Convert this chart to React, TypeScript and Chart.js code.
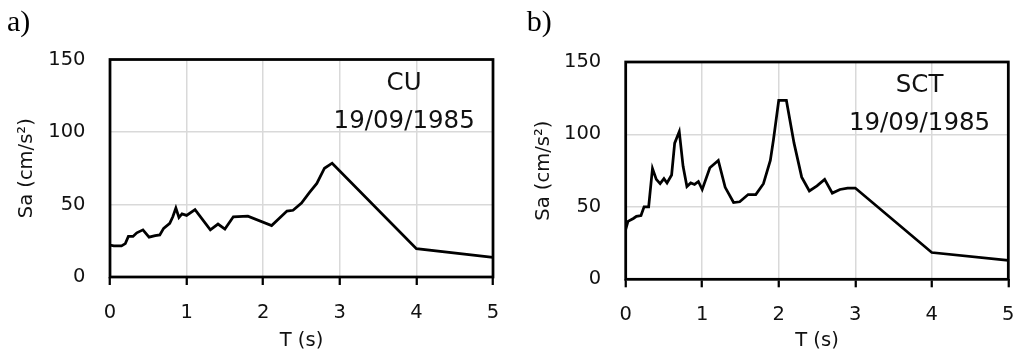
import React, { useEffect, useRef } from "react";
import { Chart, registerables } from "chart.js";

Chart.register(...registerables);

// Tick values
const T_TICKS = [0, 1, 2, 3, 4, 5];
const SA_TICKS = [0, 50, 100, 150];

// a) CU station spectrum
const CU_T = [0, 0.05, 0.1, 0.15, 0.2, 0.24, 0.3, 0.35, 0.43, 0.51, 0.59, 0.65, 0.7, 0.78, 0.82, 0.86, 0.9, 0.94, 1.0, 1.11, 1.31, 1.41, 1.5, 1.61, 1.8, 2.11, 2.31, 2.39, 2.5, 2.6, 2.7, 2.8, 2.9, 4, 5];
const CU_SA = [22, 21.5, 21.5, 21.5, 23, 28, 28, 30.5, 32.5, 27.5, 28.5, 29, 33.5, 37, 41.5, 47.5, 41, 43.5, 42.5, 46.5, 32.5, 36.5, 33, 41.5, 42, 35.5, 45.5, 46, 51, 58, 64.5, 75, 78.5, 19.5, 13.5];

// b) SCT station spectrum
const SCT_T = [0, 0.03, 0.1, 0.14, 0.2, 0.24, 0.3, 0.35, 0.4, 0.45, 0.5, 0.54, 0.6, 0.64, 0.7, 0.75, 0.8, 0.85, 0.9, 0.95, 1.0, 1.1, 1.21, 1.3, 1.41, 1.49, 1.6, 1.7, 1.8, 1.89, 1.93, 2.0, 2.1, 2.2, 2.3, 2.4, 2.5, 2.6, 2.7, 2.8, 2.9, 3.0, 4, 5];
const SCT_SA = [34.5, 40, 42, 43.5, 44, 50, 50, 76.5, 69, 66, 69.5, 66.5, 72, 94, 102, 78, 64, 66.5, 65.5, 67.5, 62, 77, 82, 63.5, 53, 53.5, 58.5, 58.5, 66, 82, 96, 123.5, 123.5, 94, 70.5, 61, 64.5, 69, 59.5, 62, 63, 63, 18.5, 13];

// Texts
const X_TITLE = "T (s)";
const Y_TITLE = "Sa (cm/s²)";
const EVENT_DATE = "19/09/1985";
const LABEL_T = 3.84;
const STATION_SA = 133.5;
const DATE_SA = 107.3;

const FONT = "'DejaVu Sans', sans-serif";
const H = 354;

type Spec = {
  tag: string;
  station: string;
  t: number[];
  sa: number[];
  left: number;
  width: number;
  plotLeft: number;
  plotRight: number;
  plotTop: number;
  plotBottom: number;
  yTitlePad: number;
  tagX: number;
};

const PANELS: Spec[] = [
  { tag: "a)", station: "CU", t: CU_T, sa: CU_SA, left: 0, width: 500, plotLeft: 110, plotRight: 493, plotTop: 59.5, plotBottom: 277, yTitlePad: 15.5, tagX: 7 },
  { tag: "b)", station: "SCT", t: SCT_T, sa: SCT_SA, left: 500, width: 514, plotLeft: 125.7, plotRight: 508.3, plotTop: 62, plotBottom: 279.3, yTitlePad: 32, tagX: 26.7 },
];

function Panel({ spec }: { spec: Spec }) {
  const ref = useRef<HTMLCanvasElement>(null);
  useEffect(() => {
    const canvas = ref.current!;
    const p = spec;
    const deco = {
      id: "deco",
      beforeDatasetsDraw(chart: any) {
        const { ctx, chartArea: a } = chart;
        ctx.save();
        ctx.strokeStyle = "#000";
        ctx.lineWidth = 2.75;
        ctx.strokeRect(a.left, a.top, a.right - a.left, a.bottom - a.top);
        ctx.restore();
      },
      afterDraw(chart: any) {
        const { ctx } = chart;
        const xs = chart.scales.x;
        const ys = chart.scales.y;
        ctx.save();
        ctx.fillStyle = "#111";
        ctx.textAlign = "center";
        ctx.textBaseline = "middle";
        ctx.font = `24.5px ${FONT}`;
        const cx = xs.getPixelForValue(LABEL_T);
        ctx.fillText(p.station, cx, ys.getPixelForValue(STATION_SA));
        ctx.fillText(EVENT_DATE, cx, ys.getPixelForValue(DATE_SA));
        ctx.textAlign = "left";
        ctx.textBaseline = "alphabetic";
        ctx.fillStyle = "#000";
        ctx.font = `30px 'Liberation Serif', 'Times New Roman', serif`;
        ctx.fillText(p.tag, p.tagX, 31);
        ctx.restore();
      },
    };
    const chart = new Chart(canvas, {
      type: "line",
      data: {
        datasets: [
          {
            data: p.t.map((t, i) => ({ x: t, y: p.sa[i] })),
            borderColor: "#000",
            borderWidth: 2.75,
            pointRadius: 0,
            tension: 0,
            fill: false,
          },
        ],
      },
      options: {
        animation: false,
        responsive: false,
        devicePixelRatio: 1,
        layout: { padding: { left: 0, top: p.plotTop, right: p.width - p.plotRight, bottom: 0 } },
        plugins: { legend: { display: false }, tooltip: { enabled: false }, title: { display: false } },
        scales: {
          x: {
            type: "linear",
            min: 0,
            max: 5,
            afterBuildTicks: (s: any) => {
              s.ticks = T_TICKS.map((v) => ({ value: v }));
            },
            afterFit: (s: any) => {
              s.height = H - p.plotBottom;
              s.paddingLeft = 0;
              s.paddingRight = 0;
            },
            grid: { color: "#d9d9d9", lineWidth: 1.5, drawTicks: true, tickLength: 8, tickColor: "#000", tickWidth: 2.25 },
            border: { display: false },
            ticks: { font: { family: FONT, size: 19.5 }, color: "#111", padding: 16, maxRotation: 0, autoSkip: false },
            title: { display: true, text: X_TITLE, font: { family: FONT, size: 19.5 }, color: "#111", padding: { top: 0, bottom: 1 } },
          },
          y: {
            type: "linear",
            min: 0,
            max: 150,
            afterBuildTicks: (s: any) => {
              s.ticks = SA_TICKS.map((v) => ({ value: v }));
            },
            afterFit: (s: any) => {
              s.width = p.plotLeft;
              s.paddingTop = 0;
              s.paddingBottom = 0;
            },
            grid: { color: "#d9d9d9", lineWidth: 1.5, drawTicks: false },
            border: { display: false },
            ticks: { font: { family: FONT, size: 19.5 }, color: "#111", padding: 24.5, autoSkip: false },
            title: { display: true, text: Y_TITLE, font: { family: FONT, size: 19.5 }, color: "#111", padding: { top: p.yTitlePad, bottom: 0 } },
          },
        },
      },
      plugins: [deco],
    } as any);
    return () => chart.destroy();
  }, [spec]);
  return (
    <canvas
      ref={ref}
      width={spec.width}
      height={H}
      style={{ position: "absolute", left: spec.left, top: 0, display: "block" }}
    />
  );
}

export default function App() {
  return (
    <div style={{ position: "absolute", left: 0, top: 0, width: 1014, height: H, background: "#fff", overflow: "hidden" }}>
      {PANELS.map((s) => (
        <Panel key={s.tag} spec={s} />
      ))}
    </div>
  );
}
